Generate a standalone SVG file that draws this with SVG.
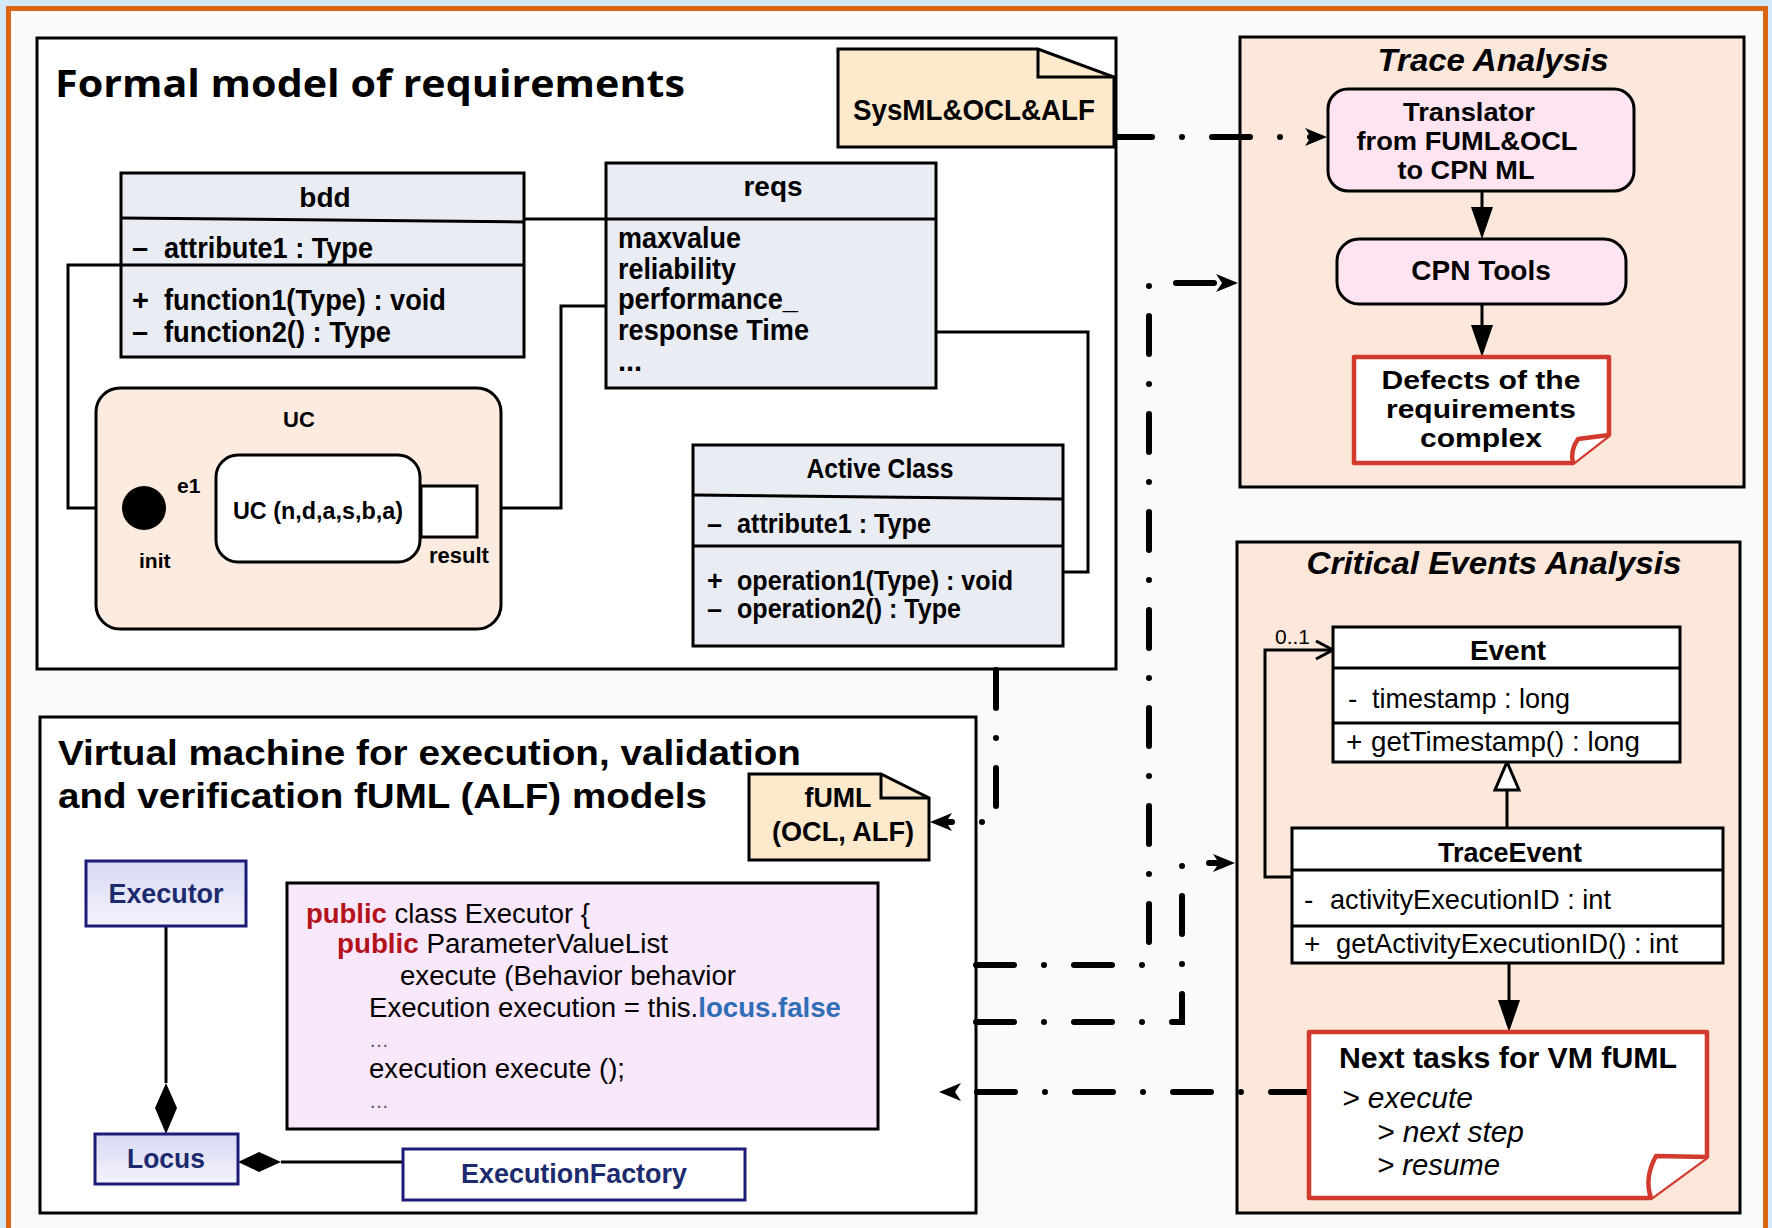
<svg xmlns="http://www.w3.org/2000/svg" width="1772" height="1228" viewBox="0 0 1772 1228">
<defs>
<style>
text{font-family:"Liberation Sans",Arial,sans-serif;fill:#000}
.b{font-weight:bold}
.i{font-style:italic}
.m{text-anchor:middle}
.ttl{font-family:"Open Sans",Lato,sans-serif;font-weight:bold}
.panel{fill:#fff;stroke:#000;stroke-width:3}
.peach{fill:#fbe8db;stroke:#000;stroke-width:3}
.uml{fill:#e9edf3;stroke:#000;stroke-width:3}
.wbox{fill:#fff;stroke:#000;stroke-width:3}
.note{fill:#fde9cc;stroke:#000;stroke-width:3}
.pink{fill:#fde4f0;stroke:#000;stroke-width:3}
.red{fill:#fff;stroke:#d23a2e;stroke-width:4.5;stroke-linejoin:round}
.ln{fill:none;stroke:#000;stroke-width:3}
.dd{fill:none;stroke:#000;stroke-width:6;stroke-linecap:round;stroke-dasharray:38 30 0 30}
.navy{fill:url(#lav);stroke:#1c1c78;stroke-width:3}
.navyw{fill:#fff;stroke:#1c1c78;stroke-width:3}
.nt{fill:#1c2a6e;font-weight:bold}
.kw{fill:#b3121c;font-weight:bold}
.bl{fill:#2f6db5;font-weight:bold}
.dots{fill:#555}
</style>
<linearGradient id="lav" x1="0" y1="0" x2="0" y2="1">
<stop offset="0" stop-color="#d8d8f4"/>
<stop offset="1" stop-color="#f4f4fd"/>
</linearGradient>
<marker id="ah" markerUnits="userSpaceOnUse" markerWidth="26" markerHeight="20" refX="10" refY="9" orient="auto">
<path d="M0,0 L22,9 L0,18 L6,9 Z" fill="#000"/>
</marker>
<marker id="tri" markerUnits="userSpaceOnUse" markerWidth="34" markerHeight="24" refX="4" refY="11" orient="auto">
<path d="M0,0 L32,11 L0,22 Z" fill="#000"/>
</marker>
<marker id="open" markerUnits="userSpaceOnUse" markerWidth="22" markerHeight="22" refX="18" refY="10" orient="auto">
<path d="M1,1 L18,10 L1,19" fill="none" stroke="#000" stroke-width="3"/>
</marker>
</defs>

<g id="background">
<rect width="1772" height="1228" fill="#d3e8fb"/>
<rect x="8.5" y="8.5" width="1757" height="1240" fill="#fafafa" stroke="#db6510" stroke-width="5"/>
</g>

<g id="panel-formal">
<rect x="37" y="38" width="1079" height="631" class="panel"/>
<text x="55" y="97" class="ttl" font-size="38" textLength="630" lengthAdjust="spacingAndGlyphs">Formal model of requirements</text>
</g>

<g id="panel-vm">
<rect x="40" y="717" width="936" height="496" class="panel"/>
<text x="58" y="765" class="b" font-size="35" textLength="743" lengthAdjust="spacingAndGlyphs">Virtual machine for execution, validation</text>
<text x="58" y="808" class="b" font-size="35" textLength="649" lengthAdjust="spacingAndGlyphs">and verification fUML (ALF) models</text>
</g>

<g id="panel-trace">
<rect x="1240" y="37" width="504" height="450" class="peach"/>
<text x="1493" y="71" class="b i m" font-size="32" textLength="231" lengthAdjust="spacingAndGlyphs">Trace Analysis</text>
</g>

<g id="panel-cea">
<rect x="1237" y="542" width="503" height="671" class="peach"/>
<text x="1494" y="574" class="b i m" font-size="32" textLength="375" lengthAdjust="spacingAndGlyphs">Critical Events Analysis</text>
</g>

<g id="connectors">
<path d="M524,219 H606" class="ln"/>
<path d="M121,265 H68 V508 H96" class="ln"/>
<path d="M606,306 H561 V508 H501" class="ln"/>
<path d="M936,332 H1088 V572 H1063" class="ln"/>
<path d="M166,508 H216" class="ln"/>
<path d="M166,926 V1083" class="ln"/>
<polygon points="166,1083 177,1108 166,1134 155,1108" fill="#000"/>
<path d="M281,1162 H403" class="ln"/>
<polygon points="238,1162 259,1152 281,1162 259,1172" fill="#000"/>
<path d="M1482,191 V211" class="ln" marker-end="url(#tri)"/>
<path d="M1482,304 V329" class="ln" marker-end="url(#tri)"/>
<path d="M1507,828 V790" class="ln"/>
<polygon points="1507,762 1519,790 1495,790" fill="#fff" stroke="#000" stroke-width="3"/>
<path d="M1292,877 H1265 V650 H1333" class="ln" marker-end="url(#open)"/>
<path d="M1509,963 V1004" class="ln" marker-end="url(#tri)"/>
<path d="M1114,137 H1315" class="dd" marker-end="url(#ah)"/>
<path d="M976,965 H1149 V283 H1226" class="dd" marker-end="url(#ah)"/>
<path d="M976,1022 H1182 V863 H1223" class="dd" marker-end="url(#ah)"/>
<path d="M996,670 V822 H942" class="dd" marker-end="url(#ah)"/>
<path d="M1309,1092 H951" class="dd" marker-end="url(#ah)"/>
</g>

<g id="note-sysml">
<path d="M838,49 H1038 L1114,77 V147 H838 Z" class="note"/>
<path d="M1038,49 V77 H1114" class="ln"/>
<text x="974" y="120" class="b m" font-size="30" textLength="242" lengthAdjust="spacingAndGlyphs">SysML&amp;OCL&amp;ALF</text>
</g>

<g id="bdd">
<rect x="121" y="173" width="403" height="184" class="uml"/>
<line x1="121" y1="218" x2="524" y2="222" class="ln"/>
<line x1="121" y1="265" x2="524" y2="265" class="ln"/>
<text x="325" y="207" class="b m" font-size="28">bdd</text>
<text x="132" y="258" class="b" font-size="29">–</text>
<text x="164" y="258" class="b" font-size="29" textLength="209" lengthAdjust="spacingAndGlyphs">attribute1 : Type</text>
<text x="132" y="310" class="b" font-size="29">+</text>
<text x="164" y="310" class="b" font-size="29" textLength="282" lengthAdjust="spacingAndGlyphs">function1(Type) : void</text>
<text x="132" y="342" class="b" font-size="29">–</text>
<text x="164" y="342" class="b" font-size="29" textLength="227" lengthAdjust="spacingAndGlyphs">function2() : Type</text>
</g>

<g id="reqs">
<rect x="606" y="163" width="330" height="225" class="uml"/>
<line x1="606" y1="219" x2="936" y2="219" class="ln"/>
<text x="773" y="196" class="b m" font-size="28">reqs</text>
<text x="618" y="248" class="b" font-size="29" textLength="123" lengthAdjust="spacingAndGlyphs">maxvalue</text>
<text x="618" y="279" class="b" font-size="29" textLength="118" lengthAdjust="spacingAndGlyphs">reliability</text>
<text x="618" y="309" class="b" font-size="29" textLength="180" lengthAdjust="spacingAndGlyphs">performance_</text>
<text x="618" y="340" class="b" font-size="29" textLength="191" lengthAdjust="spacingAndGlyphs">response Time</text>
<text x="618" y="371" class="b" font-size="29">...</text>
</g>

<g id="uc">
<rect x="96" y="388" width="405" height="241" rx="24" fill="#fcebde" stroke="#000" stroke-width="3"/>
<text x="299" y="427" class="b m" font-size="22">UC</text>
<circle cx="144" cy="508" r="22" fill="#000"/>
<text x="177" y="493" class="b" font-size="21">e1</text>
<text x="139" y="568" class="b" font-size="21">init</text>
<rect x="216" y="455" width="204" height="107" rx="22" class="wbox"/>
<text x="318" y="519" class="b m" font-size="23" textLength="170" lengthAdjust="spacingAndGlyphs">UC (n,d,a,s,b,a)</text>
<rect x="421" y="486" width="56" height="51" class="wbox"/>
<text x="429" y="563" class="b" font-size="22">result</text>
</g>

<g id="active-class">
<rect x="693" y="445" width="370" height="201" class="uml"/>
<line x1="693" y1="495" x2="1063" y2="499" class="ln"/>
<line x1="693" y1="546" x2="1063" y2="546" class="ln"/>
<text x="880" y="478" class="b m" font-size="27" textLength="147" lengthAdjust="spacingAndGlyphs">Active Class</text>
<text x="707" y="533" class="b" font-size="27">–</text>
<text x="737" y="533" class="b" font-size="27" textLength="194" lengthAdjust="spacingAndGlyphs">attribute1 : Type</text>
<text x="707" y="590" class="b" font-size="27">+</text>
<text x="737" y="590" class="b" font-size="27" textLength="276" lengthAdjust="spacingAndGlyphs">operation1(Type) : void</text>
<text x="707" y="618" class="b" font-size="27">–</text>
<text x="737" y="618" class="b" font-size="27" textLength="224" lengthAdjust="spacingAndGlyphs">operation2() : Type</text>
</g>

<g id="note-fuml">
<path d="M749,774 H881 L929,798 V860 H749 Z" class="note"/>
<path d="M881,774 V798 H929" class="ln"/>
<text x="838" y="807" class="b m" font-size="28" textLength="67" lengthAdjust="spacingAndGlyphs">fUML</text>
<text x="843" y="841" class="b m" font-size="28" textLength="142" lengthAdjust="spacingAndGlyphs">(OCL, ALF)</text>
</g>

<g id="executor">
<rect x="86" y="861" width="160" height="65" class="navy"/>
<text x="166" y="903" class="nt m" font-size="27" textLength="115" lengthAdjust="spacingAndGlyphs">Executor</text>
</g>

<g id="locus">
<rect x="95" y="1134" width="143" height="50" class="navy"/>
<text x="166" y="1168" class="nt m" font-size="27" textLength="78" lengthAdjust="spacingAndGlyphs">Locus</text>
</g>

<g id="execution-factory">
<rect x="403" y="1149" width="342" height="51" class="navyw"/>
<text x="574" y="1183" class="nt m" font-size="27" textLength="226" lengthAdjust="spacingAndGlyphs">ExecutionFactory</text>
</g>

<g id="code">
<rect x="287" y="883" width="591" height="246" fill="#f9e7fb" stroke="#000" stroke-width="3"/>
<text x="306" y="923" font-size="27.5" textLength="284" lengthAdjust="spacingAndGlyphs"><tspan class="kw">public</tspan> class Executor {</text>
<text x="337" y="953" font-size="27.5" textLength="331" lengthAdjust="spacingAndGlyphs"><tspan class="kw">public</tspan> ParameterValueList</text>
<text x="400" y="985" font-size="27.5" textLength="336" lengthAdjust="spacingAndGlyphs">execute (Behavior behavior</text>
<text x="369" y="1017" font-size="27.5" textLength="472" lengthAdjust="spacingAndGlyphs">Execution execution = this.<tspan class="bl">locus.false</tspan></text>
<text x="369" y="1047" class="dots" font-size="20">…</text>
<text x="369" y="1078" font-size="27.5" textLength="256" lengthAdjust="spacingAndGlyphs">execution execute ();</text>
<text x="369" y="1108" class="dots" font-size="20">…</text>
</g>

<g id="translator">
<rect x="1328" y="89" width="306" height="102" rx="20" class="pink"/>
<text x="1469" y="121" class="b m" font-size="26" textLength="132" lengthAdjust="spacingAndGlyphs">Translator</text>
<text x="1467" y="150" class="b m" font-size="26" textLength="221" lengthAdjust="spacingAndGlyphs">from FUML&amp;OCL</text>
<text x="1466" y="179" class="b m" font-size="26" textLength="137" lengthAdjust="spacingAndGlyphs">to CPN ML</text>
</g>

<g id="cpn-tools">
<rect x="1337" y="239" width="289" height="65" rx="22" class="pink"/>
<text x="1481" y="280" class="b m" font-size="28">CPN Tools</text>
</g>

<g id="defects">
<path d="M1354,357 H1609 V435 L1573,463 H1354 Z" class="red"/>
<path d="M1609,435 L1578,439 Q1570,450 1573,463" class="red"/>
<text x="1481" y="389" class="b m" font-size="25" textLength="199" lengthAdjust="spacingAndGlyphs">Defects of the</text>
<text x="1481" y="418" class="b m" font-size="25" textLength="190" lengthAdjust="spacingAndGlyphs">requirements</text>
<text x="1481" y="447" class="b m" font-size="25" textLength="122" lengthAdjust="spacingAndGlyphs">complex</text>
</g>

<g id="event">
<rect x="1333" y="627" width="347" height="135" class="wbox"/>
<line x1="1333" y1="668" x2="1680" y2="668" class="ln"/>
<line x1="1333" y1="723" x2="1680" y2="723" class="ln"/>
<text x="1508" y="660" class="b m" font-size="28">Event</text>
<text x="1348" y="708" font-size="28">-</text>
<text x="1372" y="708" font-size="28" textLength="198" lengthAdjust="spacingAndGlyphs">timestamp : long</text>
<text x="1346" y="751" font-size="28">+</text>
<text x="1371" y="751" font-size="28" textLength="269" lengthAdjust="spacingAndGlyphs">getTimestamp()  : long</text>
<text x="1275" y="644" font-size="20" textLength="35" lengthAdjust="spacingAndGlyphs">0..1</text>
</g>

<g id="trace-event">
<rect x="1292" y="828" width="431" height="135" class="wbox"/>
<line x1="1292" y1="870" x2="1723" y2="870" class="ln"/>
<line x1="1292" y1="926" x2="1723" y2="926" class="ln"/>
<text x="1510" y="862" class="b m" font-size="28" textLength="144" lengthAdjust="spacingAndGlyphs">TraceEvent</text>
<text x="1304" y="909" font-size="28">-</text>
<text x="1330" y="909" font-size="28" textLength="281" lengthAdjust="spacingAndGlyphs">activityExecutionID : int</text>
<text x="1304" y="953" font-size="28">+</text>
<text x="1336" y="953" font-size="28" textLength="342" lengthAdjust="spacingAndGlyphs">getActivityExecutionID() : int</text>
</g>

<g id="next-tasks">
<path d="M1309,1032 H1707 V1157 L1651,1198 H1309 Z" class="red"/>
<path d="M1707,1157 L1656,1156 Q1644,1178 1651,1198" class="red"/>
<text x="1339" y="1068" class="b" font-size="29" textLength="338" lengthAdjust="spacingAndGlyphs">Next tasks for VM fUML</text>
<text x="1342" y="1108" class="i" font-size="29" textLength="131" lengthAdjust="spacingAndGlyphs">&gt; execute</text>
<text x="1377" y="1142" class="i" font-size="29" textLength="147" lengthAdjust="spacingAndGlyphs">&gt; next step</text>
<text x="1377" y="1175" class="i" font-size="29" textLength="123" lengthAdjust="spacingAndGlyphs">&gt; resume</text>
</g>
</svg>
